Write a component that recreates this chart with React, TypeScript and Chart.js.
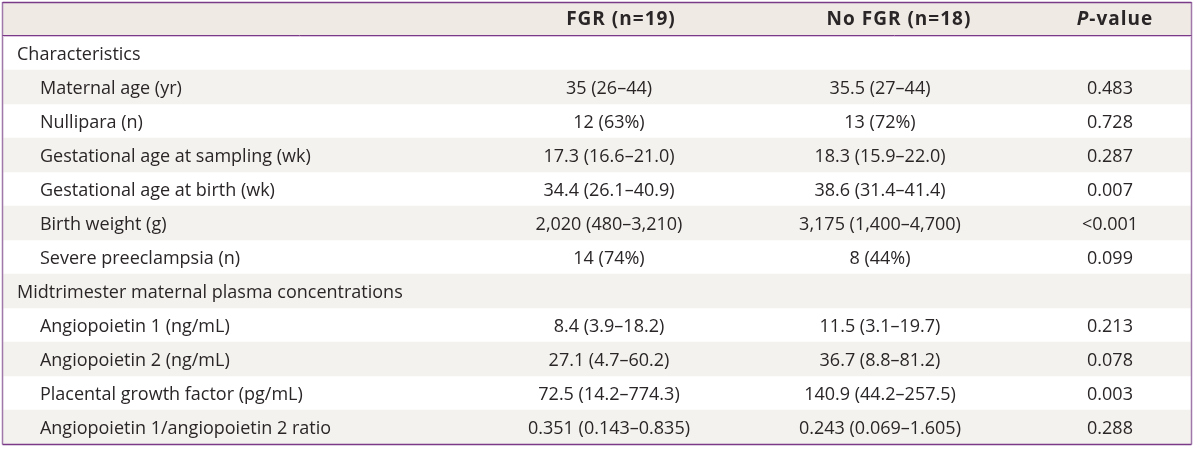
import React, { useEffect, useRef } from "react";
import { Chart, registerables } from "chart.js";

Chart.register(...registerables);

// ---- Table content ----
const columnHeaders = ["FGR (n=19)", "No FGR (n=18)", "P-value"];

const rowLabels = [
  "Characteristics",
  "Maternal age (yr)",
  "Nullipara (n)",
  "Gestational age at sampling (wk)",
  "Gestational age at birth (wk)",
  "Birth weight (g)",
  "Severe preeclampsia (n)",
  "Midtrimester maternal plasma concentrations",
  "Angiopoietin 1 (ng/mL)",
  "Angiopoietin 2 (ng/mL)",
  "Placental growth factor (pg/mL)",
  "Angiopoietin 1/angiopoietin 2 ratio",
];

const sectionRows = [1, 0, 0, 0, 0, 0, 0, 1, 0, 0, 0, 0];

const fgrValues = [
  "",
  "35 (26–44)",
  "12 (63%)",
  "17.3 (16.6–21.0)",
  "34.4 (26.1–40.9)",
  "2,020 (480–3,210)",
  "14 (74%)",
  "",
  "8.4 (3.9–18.2)",
  "27.1 (4.7–60.2)",
  "72.5 (14.2–774.3)",
  "0.351 (0.143–0.835)",
];

const noFgrValues = [
  "",
  "35.5 (27–44)",
  "13 (72%)",
  "18.3 (15.9–22.0)",
  "38.6 (31.4–41.4)",
  "3,175 (1,400–4,700)",
  "8 (44%)",
  "",
  "11.5 (3.1–19.7)",
  "36.7 (8.8–81.2)",
  "140.9 (44.2–257.5)",
  "0.243 (0.069–1.605)",
];

const pValues = [
  "",
  "0.483",
  "0.728",
  "0.287",
  "0.007",
  "<0.001",
  "0.099",
  "",
  "0.213",
  "0.078",
  "0.003",
  "0.288",
];

// 1 = shaded row band
const rowShading = [0, 1, 0, 1, 0, 1, 0, 1, 0, 1, 0, 1];

// ---- styling ----
const FONT = '"Open Sans", "Noto Sans", sans-serif';
const TEXT_COLOR = "#2a2627";
const SHADE = "#f4f2ee";
const HEADER_BG = "#efebe4";
const PURPLE = "#7a3a88";
const PURPLE_LIGHT = "#a079aa";
const PINK = "#dcc3e0";

// column anchor positions on the (0..1) x scale
const X_SECTION = 0.0118;
const X_SUB = 0.0311;
const X_FGR = 0.5101;
const X_NOFGR = 0.7382;
const X_P = 0.9318;
const XH_FGR = 0.5202;
const XH_NOFGR = 0.7542;
const XH_P = 0.936;

const HEADER_TOP = 3;

const tablePlugin = {
  id: "tableText",
  beforeDatasetsDraw(chart: any) {
    const { ctx, chartArea } = chart;
    ctx.save();
    ctx.fillStyle = HEADER_BG;
    ctx.fillRect(chartArea.left, HEADER_TOP, chartArea.right - chartArea.left, chartArea.top - HEADER_TOP - 1);
    ctx.restore();
  },
  afterDatasetsDraw(chart: any) {
    const { ctx, chartArea } = chart;
    const xs = chart.scales.x;
    const ys = chart.scales.y;
    ctx.save();
    ctx.fillStyle = TEXT_COLOR;
    ctx.textBaseline = "middle";

    // header
    const hy = (HEADER_TOP + chartArea.top - 1) / 2 + 1;
    const HB = `bold 19px ${FONT}`;
    const HBI = `italic bold 19px ${FONT}`;
    (ctx as any).letterSpacing = "1px";
    ctx.font = HB;
    ctx.textAlign = "center";
    ctx.fillText(columnHeaders[0], xs.getPixelForValue(XH_FGR), hy);
    ctx.fillText(columnHeaders[1], xs.getPixelForValue(XH_NOFGR), hy);
    // P-value with italic P
    const pText = columnHeaders[2];
    const first = pText.slice(0, 1);
    const rest = pText.slice(1);
    ctx.font = HBI;
    const w1 = ctx.measureText(first).width;
    ctx.font = HB;
    const w2 = ctx.measureText(rest).width;
    const cx = xs.getPixelForValue(XH_P);
    const startX = cx - (w1 + w2) / 2;
    ctx.textAlign = "left";
    ctx.font = HBI;
    ctx.fillText(first, startX, hy);
    ctx.font = HB;
    ctx.fillText(rest, startX + w1, hy);
    (ctx as any).letterSpacing = "0px";

    // body
    ctx.font = `18px ${FONT}`;
    rowLabels.forEach((label, i) => {
      const y = ys.getPixelForValue(i) + 1.5;
      ctx.textAlign = "left";
      ctx.fillText(label, xs.getPixelForValue(sectionRows[i] ? X_SECTION : X_SUB), y);
      ctx.textAlign = "center";
      ctx.fillText(fgrValues[i], xs.getPixelForValue(X_FGR), y);
      ctx.fillText(noFgrValues[i], xs.getPixelForValue(X_NOFGR), y);
      ctx.fillText(pValues[i], xs.getPixelForValue(X_P), y);
    });

    // borders
    const L = chartArea.left - 0.5;
    const R = chartArea.right + 0.5;
    const B = chartArea.bottom + 0.5;
    ctx.lineWidth = 1.5;
    ctx.strokeStyle = PURPLE_LIGHT;
    ctx.beginPath();
    ctx.moveTo(L, HEADER_TOP - 1);
    ctx.lineTo(L, B);
    ctx.moveTo(R, HEADER_TOP - 1);
    ctx.lineTo(R, B);
    ctx.stroke();
    ctx.strokeStyle = PURPLE;
    ctx.beginPath();
    ctx.moveTo(L, HEADER_TOP - 0.5);
    ctx.lineTo(R, HEADER_TOP - 0.5);
    ctx.moveTo(L, B);
    ctx.lineTo(R, B);
    ctx.stroke();
    ctx.lineWidth = 1;
    ctx.beginPath();
    ctx.moveTo(L, chartArea.top - 0.5);
    ctx.lineTo(R, chartArea.top - 0.5);
    ctx.stroke();
    ctx.strokeStyle = PINK;
    ctx.beginPath();
    ctx.moveTo(L + 1, chartArea.top + 0.5);
    ctx.lineTo(R - 1, chartArea.top + 0.5);
    ctx.stroke();
    ctx.restore();
  },
};

export default function App() {
  const canvasRef = useRef<HTMLCanvasElement | null>(null);

  useEffect(() => {
    if (!canvasRef.current) return;
    const chart = new Chart(canvasRef.current, {
      type: "bar",
      data: {
        labels: rowLabels,
        datasets: [
          {
            data: rowShading,
            backgroundColor: SHADE,
            borderWidth: 0,
            barPercentage: 1,
            categoryPercentage: 1,
          },
        ],
      },
      options: {
        indexAxis: "y",
        animation: false,
        responsive: false,
        devicePixelRatio: 1,
        layout: { padding: { left: 3, right: 9, top: 36, bottom: 6 } },
        plugins: {
          legend: { display: false },
          tooltip: { enabled: false },
          title: { display: false },
        },
        scales: {
          x: { type: "linear", min: 0, max: 1, display: false },
          y: { type: "category", display: false, offset: true },
        },
      },
      plugins: [tablePlugin],
    });
    return () => chart.destroy();
  }, []);

  return (
    <div style={{ position: "fixed", left: 0, top: 0, width: 1200, height: 450, background: "#ffffff" }}>
      <canvas ref={canvasRef} width={1200} height={450} style={{ width: 1200, height: 450 }} />
    </div>
  );
}
